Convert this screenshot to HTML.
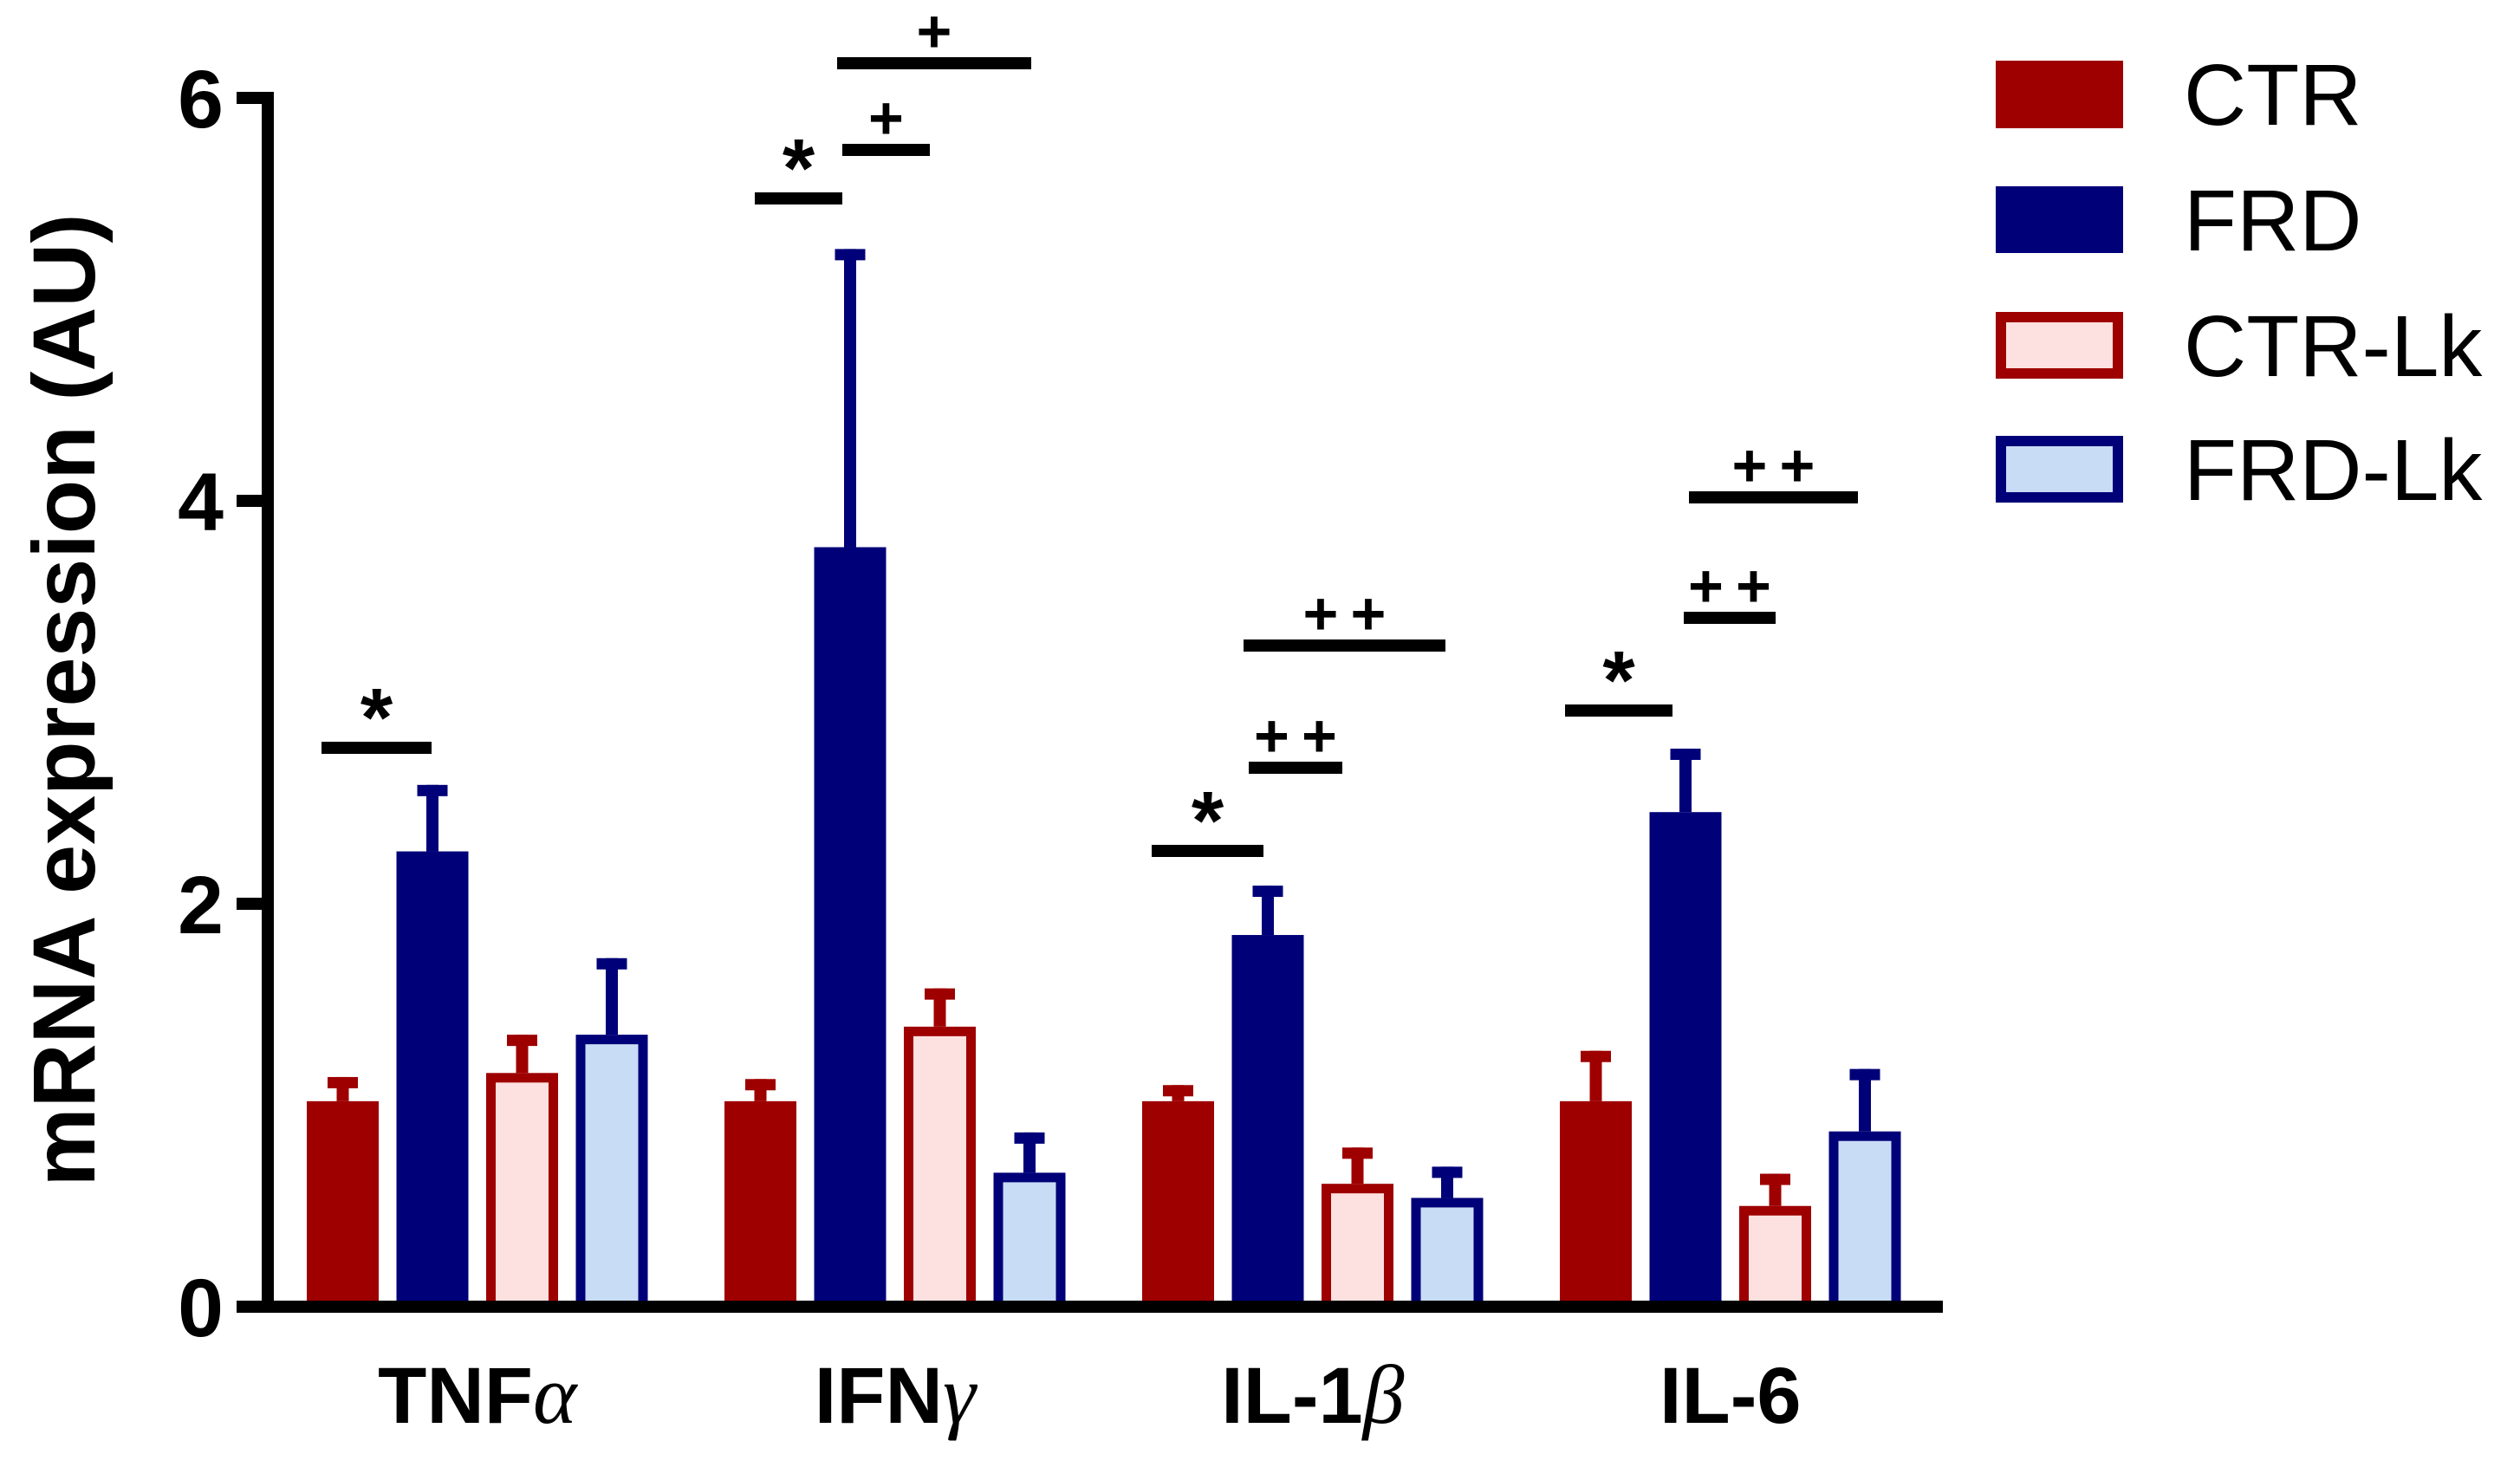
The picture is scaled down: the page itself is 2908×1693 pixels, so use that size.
<!DOCTYPE html>
<html><head><meta charset="utf-8"><style>
html,body{margin:0;padding:0;background:#fff;}
svg{display:block;font-family:"Liberation Sans",Arial,sans-serif;}
</style></head><body>
<svg id="chart" width="2908" height="1693" viewBox="0 0 2908 1693" xmlns="http://www.w3.org/2000/svg">
<g id="bars"></g>
<g id="sig"></g>
<g id="axes"></g>
<text transform="translate(109,808) rotate(-90)" text-anchor="middle" font-size="102" font-weight="bold" textLength="1123" lengthAdjust="spacingAndGlyphs">mRNA expression (AU)</text>
<g>
 <g><rect x="2303" y="70" width="147" height="78" fill="#9e0000"/><text x="2520" y="144" font-size="100">CTR</text></g>
 <g><rect x="2303" y="215" width="147" height="77" fill="#000078"/><text x="2520" y="289" font-size="100">FRD</text></g>
 <g><rect x="2309" y="366" width="135" height="65" fill="#fde0e0" stroke="#9e0000" stroke-width="12"/><text x="2520" y="434" font-size="100">CTR-Lk</text></g>
 <g><rect x="2309" y="509" width="135" height="65" fill="#c8dcf5" stroke="#000078" stroke-width="12"/><text x="2520" y="577" font-size="100">FRD-Lk</text></g>
</g>
</svg>
<script>
const categories = ["TNF", "IFN", "IL-1", "IL-6"];
const greek = ["\u03B1", "\u03B3", "\u03B2", ""];
const seriesNames = ["CTR", "FRD", "CTR-Lk", "FRD-Lk"];
const ctrMean = [1.02, 1.02, 1.02, 1.02];
const ctrErr = [1.14, 1.13, 1.10, 1.27];
const frdMean = [2.26, 3.77, 1.845, 2.455];
const frdErr = [2.59, 5.25, 2.09, 2.77];
const ctrLkMean = [1.16, 1.39, 0.61, 0.50];
const ctrLkErr = [1.35, 1.58, 0.79, 0.66];
const frdLkMean = [1.35, 0.665, 0.54, 0.87];
const frdLkErr = [1.73, 0.865, 0.695, 1.18];
const yTicks = [0, 2, 4, 6];

const NS = "http://www.w3.org/2000/svg";
const y0 = 1508, unit = 232.5;
function yScale(v){ return y0 - v*unit; }
function xBar(g, i){ return 354 + g*482 + i*103.5; }
const BW = 83;
const fills = ["#9e0000","#000078","#fde0e0","#c8dcf5"];
const strokes = ["#9e0000","#000078","#9e0000","#000078"];
const means = [ctrMean, frdMean, ctrLkMean, frdLkMean];
const errs = [ctrErr, frdErr, ctrLkErr, frdLkErr];
function mk(tag, attrs, parent){ const e=document.createElementNS(NS,tag); for(const k in attrs) e.setAttribute(k,attrs[k]); parent.appendChild(e); return e; }

const barsG = document.getElementById('bars');
for (let g=0; g<categories.length; g++){
  for (let s=0; s<4; s++){
    const x = xBar(g,s), top = yScale(means[s][g]), et = yScale(errs[s][g]);
    const cx = x + BW/2;
    const stem = mk('rect',{x:cx-7,y:et,width:14,height:top-et,fill:strokes[s]},barsG);
    
    
    const cap = mk('rect',{x:cx-17.5,y:et,width:35,height:13,fill:strokes[s]},barsG);
    
    
    let b;
    if (s<2) b = mk('rect',{x:x,y:top,width:BW,height:y0-top,fill:fills[s]},barsG);
    else b = mk('rect',{x:x+5.5,y:top+5.5,width:BW-11,height:y0-top-5.5,fill:fills[s],stroke:strokes[s],'stroke-width':11},barsG);
    
    
  }
}

const axesG = document.getElementById('axes');
const yl = mk('rect',{x:302,y:106,width:14,height:1409,fill:'#000'},axesG);


const xl = mk('rect',{x:302,y:1501,width:1940,height:14,fill:'#000'},axesG);


yTicks.forEach(v=>{
  const yy = yScale(v);
  const t = mk('rect',{x:273,y:yy-7,width:36,height:14,fill:'#000'},axesG);
  
  
  const l = mk('text',{x:258,y:yy+34,'text-anchor':'end','font-size':95,'font-weight':'bold'},axesG);
  l.textContent = v;
  
  
});
categories.forEach((c,g)=>{
  const cx = xBar(g,0) + (3*103.5+BW)/2;
  const t = mk('text',{x:cx,y:1642,'text-anchor':'middle','font-size':92,'font-weight':'bold'},axesG);
  
  
  const a = document.createElementNS(NS,'tspan'); a.textContent = c; t.appendChild(a);
  if (greek[g]){ const b = document.createElementNS(NS,'tspan'); b.setAttribute('font-family','"Liberation Serif",serif'); b.setAttribute('font-weight','normal'); b.setAttribute('font-style','italic'); b.setAttribute('font-size','96'); b.textContent = greek[g]; t.appendChild(b); }
});

// significance: [x1,x2,lineY,symbol]
const sigs = [
 [371,498,863,'*'],
 [871,972,229,'*'],[972,1073,173,'+'],[966,1190,73,'+'],
 [1329,1458,982,'*'],[1441,1549,886,'++'],[1435,1668,745,'++'],
 [1806,1930,820,'*'],[1943,2049,713,'++'],[1949,2144,574,'++']
];
const sigG = document.getElementById('sig');
sigs.forEach(s=>{
  const ln = mk('rect',{x:s[0],y:s[2]-7,width:s[1]-s[0],height:14,fill:'#000'},sigG);
  
  
  const cx = (s[0]+s[1])/2;
  if (s[3]==='*'){
    const t = mk('text',{x:cx,y:s[2]-2,'text-anchor':'middle','font-size':96,'font-weight':'bold'},sigG);
    t.textContent='*';
    
    
  } else {
    const n = s[3].length;
    for (let k=0;k<n;k++){
      const px = cx + (k-(n-1)/2)*55;
      const t = mk('text',{x:px,y:s[2]-13,'text-anchor':'middle','font-size':70,'font-weight':'bold'},sigG);
      t.textContent='+';
      
      
    }
  }
});
</script>
</body></html>
